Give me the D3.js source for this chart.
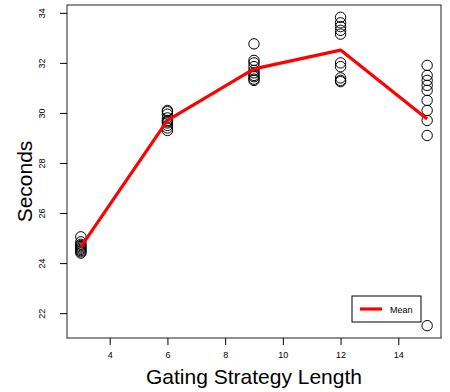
<!DOCTYPE html>
<html>
<head>
<meta charset="utf-8">
<script src="https://cdn.jsdelivr.net/npm/d3@7"></script>
<style>
  html, body { margin: 0; padding: 0; background: #fff; }
  svg { display: block; font-family: "Liberation Sans", Arial, sans-serif; }
</style>
</head>
<body>
<svg id="chart" width="450" height="392"></svg>
<script>
// Gating strategy lengths tested
const lengths = [3, 6, 9, 12, 15];

// Timing runs (seconds), ten per strategy length
const secondsAt3  = [25.05, 24.85, 24.75, 24.70, 24.65, 24.60, 24.55, 24.50, 24.45, 24.40];
const secondsAt6  = [30.10, 30.05, 29.95, 29.80, 29.70, 29.65, 29.60, 29.50, 29.40, 29.30];
const secondsAt9  = [32.76, 32.10, 32.00, 31.85, 31.70, 31.60, 31.50, 31.45, 31.35, 31.30];
const secondsAt12 = [33.82, 33.60, 33.45, 33.30, 33.15, 32.00, 31.85, 31.40, 31.30, 31.25];
const secondsAt15 = [31.90, 31.50, 31.30, 31.10, 30.90, 30.50, 30.10, 29.70, 29.10, 21.50];

const xTicks = [4, 6, 8, 10, 12, 14];
const yTicks = [22, 24, 26, 28, 30, 32, 34];

const runs = [secondsAt3, secondsAt6, secondsAt9, secondsAt12, secondsAt15];
const points = lengths.flatMap((len, i) => runs[i].map(s => ({ len, s })));
const means = lengths.map((len, i) => ({ len, s: d3.mean(runs[i]) }));

const svg = d3.select("#chart");
const box = { left: 67, right: 441, top: 5, bottom: 338 };

// R-style 4% padding around the data range
function padded(ext) {
  const d = (ext[1] - ext[0]) * 0.04;
  return [ext[0] - d, ext[1] + d];
}
const x = d3.scaleLinear().domain(padded(d3.extent(lengths))).range([box.left, box.right]);
const y = d3.scaleLinear().domain(padded(d3.extent(points, p => p.s))).range([box.bottom, box.top]);

// plot frame
svg.append("rect")
  .attr("x", box.left).attr("y", box.top)
  .attr("width", box.right - box.left).attr("height", box.bottom - box.top)
  .attr("fill", "none").attr("stroke", "#222").attr("stroke-width", 1);

// x axis
const xAxis = svg.append("g")
  .attr("transform", `translate(0,${box.bottom})`)
  .call(d3.axisBottom(x).tickValues(xTicks).tickSize(7).tickPadding(7).tickFormat(d3.format("d")));
xAxis.select(".domain").remove();
xAxis.selectAll("line").attr("stroke", "#000");
xAxis.selectAll("text").attr("font-size", 9).attr("fill", "#000")
  .attr("font-family", "Liberation Sans, Arial, sans-serif");

// y axis, labels rotated parallel to the axis
const yAxis = svg.append("g")
  .attr("transform", `translate(${box.left},0)`)
  .call(d3.axisLeft(y).tickValues(yTicks).tickSize(7).tickFormat(d3.format("d")));
yAxis.select(".domain").remove();
yAxis.selectAll("line").attr("stroke", "#000");
yAxis.selectAll("text").remove();
yAxis.selectAll(".tick").append("text")
  .attr("transform", "translate(-22,0) rotate(-90)")
  .attr("text-anchor", "middle")
  .attr("font-size", 9)
  .attr("fill", "#000")
  .attr("font-family", "Liberation Sans, Arial, sans-serif")
  .text(d => d);

// axis titles
svg.append("text")
  .attr("x", (box.left + box.right) / 2).attr("y", 384)
  .attr("text-anchor", "middle").attr("font-size", 21)
  .text("Gating Strategy Length");
svg.append("text")
  .attr("transform", `translate(32,${(box.top + box.bottom) / 2 + 10}) rotate(-90)`)
  .attr("text-anchor", "middle").attr("font-size", 21)
  .text("Seconds");

// individual runs
svg.append("g").selectAll("circle")
  .data(points).join("circle")
  .attr("cx", d => x(d.len)).attr("cy", d => y(d.s))
  .attr("r", 5.2)
  .attr("fill", "none").attr("stroke", "#000").attr("stroke-width", 1);

// mean line
svg.append("path")
  .datum(means)
  .attr("d", d3.line().x(d => x(d.len)).y(d => y(d.s)))
  .attr("fill", "none").attr("stroke", "#ff0000").attr("stroke-width", 3.2)
  .attr("stroke-linejoin", "round");

// legend
const lg = svg.append("g").attr("transform", "translate(352,296)");
lg.append("rect").attr("width", 69).attr("height", 26)
  .attr("fill", "#fff").attr("stroke", "#000").attr("stroke-width", 1);
lg.append("line").attr("x1", 8).attr("x2", 30).attr("y1", 13).attr("y2", 13)
  .attr("stroke", "#ff0000").attr("stroke-width", 3.2);
lg.append("text").attr("x", 38).attr("y", 16.5).attr("font-size", 9).text("Mean");
</script>
</body>
</html>
